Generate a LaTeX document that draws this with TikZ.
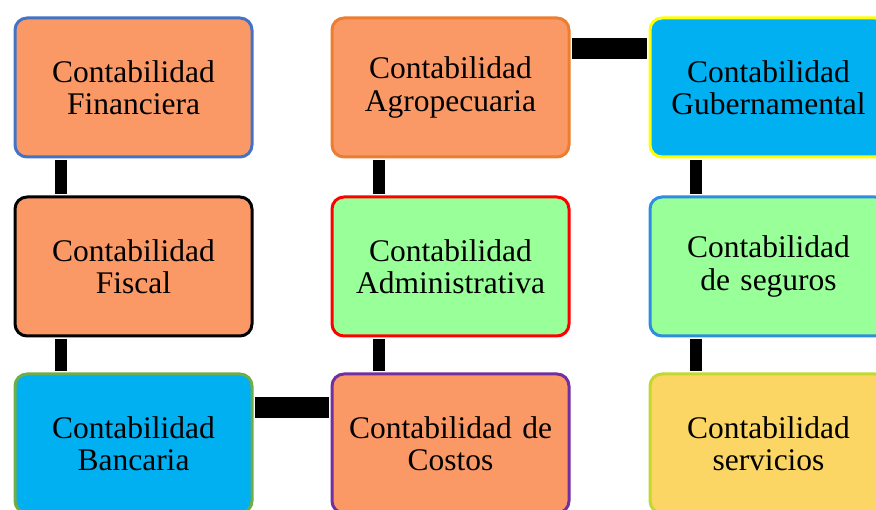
\documentclass[tikz,border=0pt]{standalone}
\usepackage{fontspec}
\setmainfont{Liberation Serif}
\usetikzlibrary{calc}
\definecolor{orf}{RGB}{250,152,102}
\definecolor{blf}{RGB}{0,176,240}
\definecolor{grf}{RGB}{153,255,153}
\definecolor{yef}{RGB}{252,214,100}
\definecolor{bdblue}{RGB}{68,114,196}
\definecolor{bdgreen}{RGB}{112,173,71}
\definecolor{bdorange}{RGB}{237,125,49}
\definecolor{bdpurple}{RGB}{112,48,160}
\definecolor{bdyellow}{RGB}{255,255,0}
\definecolor{bdsky}{RGB}{46,140,225}
\definecolor{bdlime}{RGB}{192,216,48}
\tikzset{
  box/.style={draw, line width=3pt, rounded corners=12pt, anchor=north west,
    minimum width=237pt, minimum height=139pt, inner sep=0pt,
    text width=237pt, align=center,
    font=\fontsize{31.5}{32.5}\selectfont},
  vlink/.style={line width=12pt, line cap=butt},
  hlink/.style={line width=21pt, line cap=butt}
}
\begin{document}
\begin{tikzpicture}[x=1pt,y=-1pt]
\useasboundingbox (0,0) rectangle (876,510);
\node[box, fill=orf, draw=bdblue] (fin) at (13.5,16.5) {Contabilidad\\Financiera};
\node[box, fill=orf, draw=black] (fis) at (13.5,195.5) {Contabilidad\\Fiscal};
\node[box, fill=blf, draw=bdgreen] (ban) at (13.5,372.5) {Contabilidad\\Bancaria};
\node[box, fill=orf, draw=bdorange] (agr) at (330.5,16.5) {Contabilidad\\Agropecuaria};
\node[box, fill=grf, draw=red] (adm) at (330.5,195.5) {Contabilidad\\Administrativa};
\node[box, fill=orf, draw=bdpurple] (cos) at (330.5,372.5) {Contabilidad de\\Costos};
\node[box, fill=blf, draw=bdyellow] (gub) at (648.5,16.5) {Contabilidad\\Gubernamental};
\node[box, fill=grf, draw=bdsky] (seg) at (648.5,195.5) {Contabilidad\\de seguros};
\node[box, fill=yef, draw=bdlime] (ser) at (648.5,372.5) {Contabilidad\\servicios};
\draw[vlink] ($(fin.south west)+(47.5,1.5)$) -- ($(fis.north west)+(47.5,-1.5)$);
\draw[vlink] ($(fis.south west)+(47.5,1.5)$) -- ($(ban.north west)+(47.5,-1.5)$);
\draw[vlink] ($(adm.south west)+(48.5,1.5)$) -- ($(cos.north west)+(48.5,-1.5)$);
\draw[vlink] ($(agr.south west)+(48.5,1.5)$) -- ($(adm.north west)+(48.5,-1.5)$);
\draw[vlink] ($(gub.south west)+(47.5,1.5)$) -- ($(seg.north west)+(47.5,-1.5)$);
\draw[vlink] ($(seg.south west)+(47.5,1.5)$) -- ($(ser.north west)+(47.5,-1.5)$);
\draw[hlink] ($(agr.north east)+(1.5,32)$) -- ($(gub.north west)+(-1.5,32)$);
\draw[hlink] ($(ban.north east)+(1.5,35.5)$) -- ($(cos.north west)+(-1.5,35.5)$);
\end{tikzpicture}
\end{document}
